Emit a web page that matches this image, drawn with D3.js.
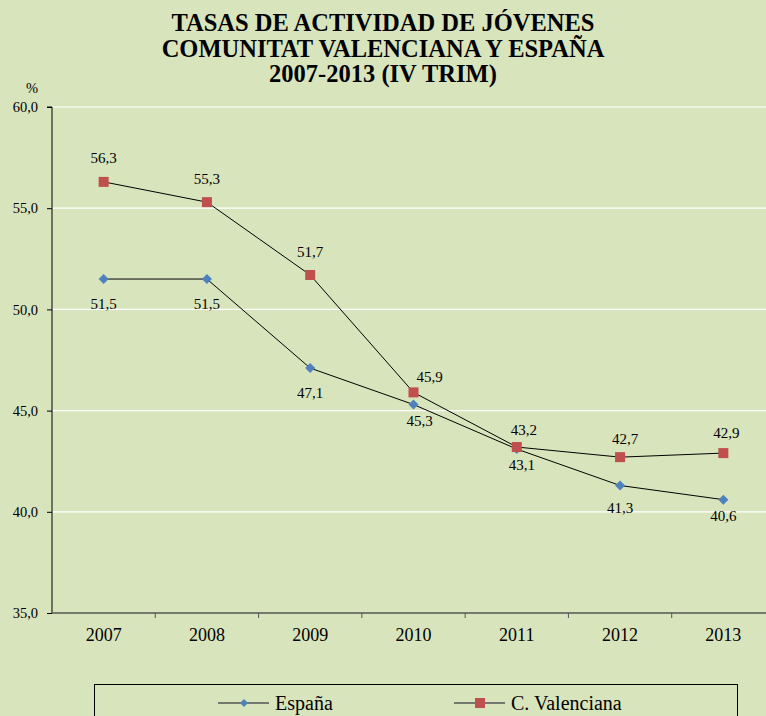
<!DOCTYPE html>
<html><head><meta charset="utf-8">
<script src="https://cdn.jsdelivr.net/npm/d3@7"></script>
<style>body{margin:0;background:#D8E4BC;}svg{display:block;} text{font-family:"Liberation Serif","DejaVu Serif",serif;}</style>
</head><body>
<script>
const years = ["2007","2008","2009","2010","2011","2012","2013"];
const espana = [51.5, 51.5, 47.1, 45.3, 43.1, 41.3, 40.6];
const valenciana = [56.3, 55.3, 51.7, 45.9, 43.2, 42.7, 42.9];
const yTicks = [35, 40, 45, 50, 55, 60];
const titleLines = ["TASAS DE ACTIVIDAD DE JÓVENES","COMUNITAT VALENCIANA Y ESPAÑA","2007-2013 (IV TRIM)"];
const seriesNames = ["España","C. Valenciana"];

// label placement (layout only)
const espLabelDx = [0, 0, 0, 6, 5, 0, 0];
const espLabelDy = [30, 30, 30, 21, 21, 28, 21];
const valLabelDx = [0, 0, 0, 16, 7, 5, 3];
const valLabelDy = [-19, -18, -18, -10, -12, -13, -15];

const W = 766, H = 716;
const font = "Liberation Serif";
const svg = d3.select("body").append("svg").attr("width", W).attr("height", H);
svg.append("rect").attr("width", W).attr("height", H).attr("fill", "#D8E4BC");

const x = d3.scaleBand().domain(years).range([52, 775]);
const y = d3.scaleLinear().domain([35, 60]).range([613, 107]);

// title
svg.append("g").selectAll("text").data(titleLines).join("text")
  .attr("x", 383).attr("y", (d, i) => 31 + i * 25.5)
  .attr("text-anchor", "middle").style("font-family", font)
  .attr("font-weight", "bold").attr("font-size", 24.5).attr("fill", "#000").text(d => d);

// gridlines
svg.append("g").selectAll("line").data(yTicks.filter(t => t > 35)).join("line")
  .attr("x1", 52).attr("x2", W).attr("y1", d => y(d)).attr("y2", d => y(d))
  .attr("stroke", "#fff").attr("stroke-width", 1.2);

// y axis
const yAxis = svg.append("g").attr("transform", "translate(52,0)")
  .call(d3.axisLeft(y).tickValues(yTicks).tickSize(5).tickPadding(9)
    .tickFormat(d => d3.format(".1f")(d).replace(".", ",")));
yAxis.select(".domain").attr("stroke", "#000").attr("d", `M-5,${y(60)}H0V${y(35)}`);
yAxis.selectAll("line").attr("stroke", "#000");
yAxis.selectAll("text").style("font-family", font).attr("font-size", 14.5).attr("fill", "#000");

svg.append("text").attr("x", 32).attr("y", 93).attr("text-anchor", "middle")
  .style("font-family", font).attr("font-size", 14.5).text("%");

// x axis
const xAxis = svg.append("g").attr("transform", `translate(0,${y(35)})`)
  .call(d3.axisBottom(x).tickSize(0).tickPadding(15));
xAxis.select(".domain").attr("stroke", "#555").attr("stroke-width", 1.5).attr("d", `M52,0H${W}`);
xAxis.selectAll("text").style("font-family", font).attr("font-size", 18).attr("fill", "#000");
svg.append("g").selectAll("line").data(years.slice(1)).join("line")
  .attr("x1", d => x(d)).attr("x2", d => x(d)).attr("y1", y(35)).attr("y2", y(35) + 5)
  .attr("stroke", "#555");

const cx = d => x(d) + x.bandwidth() / 2;
const line = d3.line().x((d, i) => cx(years[i])).y(d => y(d));

svg.append("path").datum(espana).attr("d", line).attr("fill", "none").attr("stroke", "#000").attr("stroke-width", 1);
svg.append("path").datum(valenciana).attr("d", line).attr("fill", "none").attr("stroke", "#000").attr("stroke-width", 1);

const diamond = d3.symbol().type(d3.symbolDiamond2).size(64);
svg.append("g").selectAll("path").data(espana).join("path")
  .attr("transform", (d, i) => `translate(${cx(years[i])},${y(d)})`)
  .attr("d", diamond).attr("fill", "#4F81BD");
svg.append("g").selectAll("rect").data(valenciana).join("rect")
  .attr("x", (d, i) => cx(years[i]) - 5).attr("y", d => y(d) - 5)
  .attr("width", 10).attr("height", 10).attr("fill", "#C0504D");

const fmt = v => d3.format(".1f")(v).replace(".", ",");
svg.append("g").selectAll("text").data(espana).join("text")
  .attr("x", (d, i) => cx(years[i]) + espLabelDx[i]).attr("y", (d, i) => y(d) + espLabelDy[i])
  .attr("text-anchor", "middle").style("font-family", font).attr("font-size", 15).text(fmt);
svg.append("g").selectAll("text").data(valenciana).join("text")
  .attr("x", (d, i) => cx(years[i]) + valLabelDx[i]).attr("y", (d, i) => y(d) + valLabelDy[i])
  .attr("text-anchor", "middle").style("font-family", font).attr("font-size", 15).text(fmt);

// legend
svg.append("rect").attr("x", 94.5).attr("y", 684.5).attr("width", 643).attr("height", 40)
  .attr("fill", "none").attr("stroke", "#000").attr("stroke-width", 1);
const lg = [{name: seriesNames[0], x: 218, c: "#4F81BD", t: "d"}, {name: seriesNames[1], x: 454, c: "#C0504D", t: "s"}];
const legDiamond = d3.symbol().type(d3.symbolDiamond2).size(40);
lg.forEach(l => {
  svg.append("line").attr("x1", l.x).attr("x2", l.x + 51).attr("y1", 703).attr("y2", 703).attr("stroke", "#555").attr("stroke-width", 1.5);
  if (l.t === "d") svg.append("path").attr("transform", `translate(${l.x + 26},703)`).attr("d", legDiamond).attr("fill", l.c);
  else svg.append("rect").attr("x", l.x + 21).attr("y", 698).attr("width", 10).attr("height", 10).attr("fill", l.c);
  svg.append("text").attr("x", l.x + 57).attr("y", 710).style("font-family", font).attr("font-size", 20).text(l.name);
});
</script>
</body></html>
